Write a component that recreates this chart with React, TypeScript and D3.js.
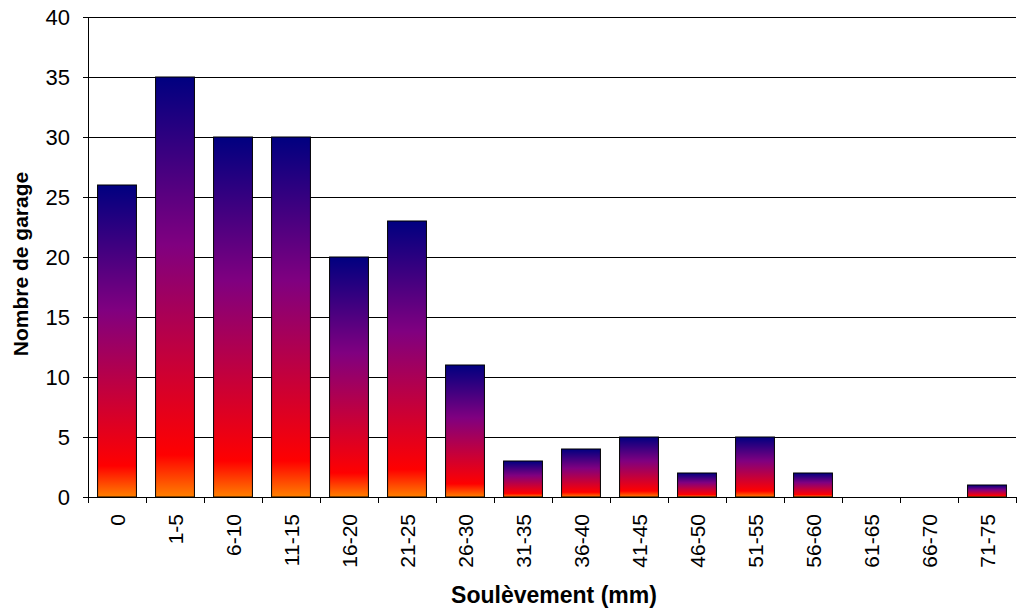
import React from "react";
import * as d3 from "d3";

const categories = ["0", "1-5", "6-10", "11-15", "16-20", "21-25", "26-30", "31-35", "36-40", "41-45", "46-50", "51-55", "56-60", "61-65", "66-70", "71-75"];
const counts = [26, 35, 30, 30, 20, 23, 11, 3, 4, 5, 2, 5, 2, 0, 0, 1];
const yTicks = [0, 5, 10, 15, 20, 25, 30, 35, 40];

const W = 1019;
const H = 612;
const left = 88;
const right = 1016;
const top = 17;
const bottom = 497;

export default function App() {
  const x = d3.scaleBand<string>().domain(categories).range([left, right]).paddingInner(0.33).paddingOuter(0.165);
  const y = d3.scaleLinear().domain([0, 40]).range([bottom, top]);
  const step = x.step();
  const font = "Arial, 'Liberation Sans', sans-serif";

  return (
    <svg width={W} height={H} style={{ position: "absolute", left: 0, top: 0 }} fontFamily={font}>
      <defs>
        <linearGradient id="barFill" x1="0" y1="0" x2="0" y2="1">
          <stop offset="0" stopColor="#000080" />
          <stop offset="0.4" stopColor="#800080" />
          <stop offset="0.9" stopColor="#ff0000" />
          <stop offset="1" stopColor="#ff8000" />
        </linearGradient>
      </defs>
      <rect width={W} height={H} fill="#fff" />
      {/* gridlines */}
      {yTicks.map((t) => (
        <line key={t} x1={left} x2={right} y1={Math.round(y(t)) + 0.5} y2={Math.round(y(t)) + 0.5} stroke="#000" strokeWidth={1} />
      ))}
      {/* bars */}
      {counts.map((v, i) =>
        v > 0 ? (
          <rect
            key={categories[i]}
            x={x(categories[i])!}
            y={y(v)}
            width={x.bandwidth()}
            height={y(0) - y(v)}
            fill="url(#barFill)"
            stroke="#000"
            strokeWidth={1}
          />
        ) : null
      )}
      {/* y axis */}
      <line x1={left + 0.5} x2={left + 0.5} y1={top} y2={bottom} stroke="#000" />
      {yTicks.map((t) => (
        <g key={t}>
          <line x1={left - 5} x2={left} y1={Math.round(y(t)) + 0.5} y2={Math.round(y(t)) + 0.5} stroke="#000" />
          <text x={70} y={y(t)} dy="0.36em" textAnchor="end" fontSize={22}>
            {t}
          </text>
        </g>
      ))}
      {/* x axis ticks between categories */}
      {d3.range(categories.length + 1).map((i) => {
        const px = Math.round(left + i * step) + 0.5;
        return <line key={i} x1={px} x2={px} y1={bottom} y2={bottom + 6} stroke="#000" />;
      })}
      {categories.map((c) => {
        const cx = x(c)! + x.bandwidth() / 2;
        return (
          <text key={c} transform={`translate(${cx},514) rotate(-90)`} textAnchor="end" dy="0.36em" fontSize={21}>
            {c}
          </text>
        );
      })}
      <text x={554} y={603} textAnchor="middle" fontSize={23} fontWeight="bold">
        Soulèvement (mm)
      </text>
      <text transform={`translate(28,264) rotate(-90)`} textAnchor="middle" fontSize={21} fontWeight="bold">
        Nombre de garage
      </text>
    </svg>
  );
}
